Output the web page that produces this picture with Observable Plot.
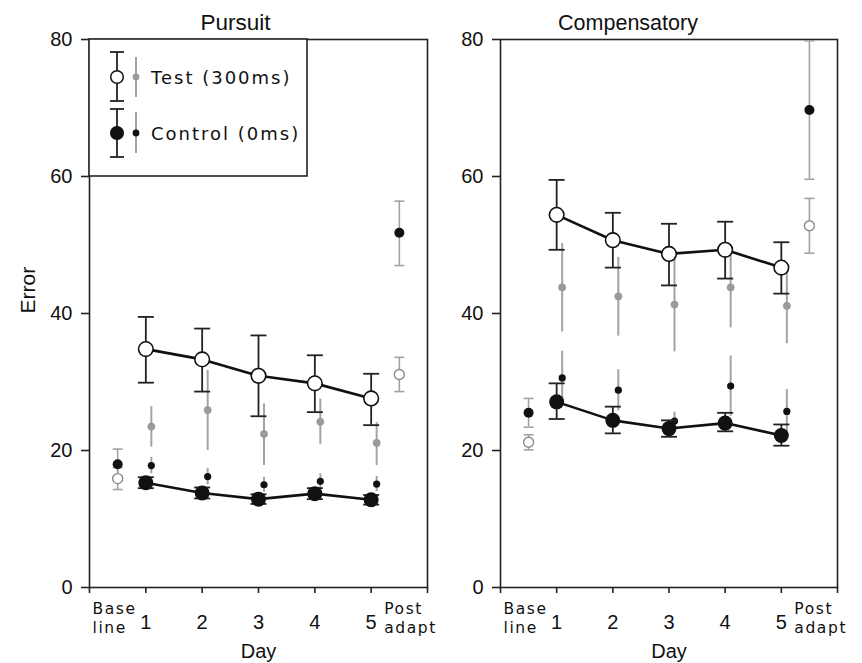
<!DOCTYPE html>
<html><head><meta charset="utf-8">
<script src="https://cdn.jsdelivr.net/npm/d3@7"></script>
<script src="https://cdn.jsdelivr.net/npm/@observablehq/plot@0.6"></script>
<style>
html,body{margin:0;padding:0;background:#fff;}
#wrap{position:relative;width:862px;height:663px;overflow:hidden;background:#fff;}
#wrap svg{position:absolute;top:0;overflow:visible;}
</style></head><body><div id="wrap"></div>
<script>
// ---------- data ----------
const days = [1, 2, 3, 4, 5];
const axisTicks = [0, 1, 2, 3, 4, 5, 6];
const yTicks = [0, 20, 40, 60, 80];
const baselineX = 0.5, postX = 5.5;
const baseLabel = "Base\nline", postLabel = "Post\nadapt";
const titles = ["Pursuit", "Compensatory"];
const legendLabels = ["Test (300ms)", "Control (0ms)"];

// Pursuit
const pursuitTest = [34.8, 33.3, 30.9, 29.8, 27.6];
const pursuitTestLo = [29.9, 28.6, 25.0, 25.6, 23.7];
const pursuitTestHi = [39.5, 37.8, 36.8, 33.9, 31.2];
const pursuitCtrl = [15.3, 13.8, 12.9, 13.7, 12.8];
const pursuitCtrlLo = [14.5, 13.0, 12.2, 12.9, 12.1];
const pursuitCtrlHi = [16.1, 14.6, 13.6, 14.5, 13.5];
const pursuitTestSmall = [23.5, 25.9, 22.4, 24.2, 21.1];
const pursuitTestSmallLo = [20.5, 20.0, 17.8, 20.9, 17.8];
const pursuitTestSmallHi = [26.4, 31.7, 26.8, 27.5, 24.1];
const pursuitCtrlSmall = [17.8, 16.2, 15.0, 15.5, 15.1];
const pursuitCtrlSmallLo = [16.6, 15.0, 13.9, 14.4, 14.0];
const pursuitCtrlSmallHi = [19.0, 17.4, 16.1, 16.6, 16.2];
const pursuitBase = {test: [15.9, 14.3, 17.5], ctrl: [18.0, 15.8, 20.2]};
const pursuitPost = {test: [31.1, 28.6, 33.6], ctrl: [51.8, 47.0, 56.4]};

// Compensatory
const compTest = [54.4, 50.7, 48.7, 49.3, 46.7];
const compTestLo = [49.3, 46.7, 44.1, 45.1, 42.9];
const compTestHi = [59.5, 54.7, 53.1, 53.4, 50.4];
const compCtrl = [27.1, 24.4, 23.2, 24.0, 22.2];
const compCtrlLo = [24.6, 22.5, 22.0, 22.8, 20.7];
const compCtrlHi = [29.8, 26.4, 24.4, 25.5, 23.8];
const compTestSmall = [43.8, 42.5, 41.3, 43.8, 41.1];
const compTestSmallLo = [37.3, 36.7, 34.4, 37.9, 35.6];
const compTestSmallHi = [50.2, 48.2, 48.2, 49.7, 46.6];
const compCtrlSmall = [30.6, 28.8, 24.3, 29.4, 25.7];
const compCtrlSmallLo = [26.7, 25.8, 23.0, 25.0, 22.5];
const compCtrlSmallHi = [34.5, 31.8, 25.6, 33.8, 28.9];
const compBase = {test: [21.2, 20.1, 22.3], ctrl: [25.5, 23.4, 27.6]};
const compPost = {test: [52.8, 48.8, 56.8], ctrl: [69.7, 59.6, 79.8]};

// ---------- helpers ----------
const rows = (m, lo, hi) => days.map((d, i) => ({x: d, y: m[i], lo: lo[i], hi: hi[i]}));
const single = (x, a) => ({x, y: a[0], lo: a[1], hi: a[2]});
const capSymbol = {draw(ctx, size) { const w = Math.sqrt(size / Math.PI); ctx.moveTo(-w, 0); ctx.lineTo(w, 0); }};
const FONT = "'Liberation Sans', Arial, Helvetica, sans-serif";
const LFONT = "'DejaVu Sans', Verdana, sans-serif";
const GRAY = "#a3a3a3";

function panel(p) {
  const main = rows(p.test, p.testLo, p.testHi);
  const ctrl = rows(p.ctrl, p.ctrlLo, p.ctrlHi);
  const tS = rows(p.testS, p.testSLo, p.testSHi);
  const cS = rows(p.ctrlS, p.ctrlSLo, p.ctrlSHi);
  const extraTest = [single(baselineX, p.base.test), single(postX, p.post.test)];
  const extraCtrl = [single(baselineX, p.base.ctrl), single(postX, p.post.ctrl)];
  const extras = [...extraTest, ...extraCtrl];
  const SM = 5.5; // pixel offset of small markers
  const marks = [
    Plot.frame({stroke: "#222", strokeWidth: 1.6}),
    Plot.axisY({ticks: yTicks, tickSize: 8, tickPadding: 9, fontSize: 20, stroke: "#222", strokeWidth: 1.6, label: null, fill: "#111"}),
    Plot.axisX({ticks: axisTicks, tickSize: 6, tickFormat: () => "", stroke: "#222", strokeWidth: 1.6, label: null}),
    Plot.text(days, {x: d => d, text: d => String(d), frameAnchor: "bottom", dy: 41, lineAnchor: "bottom", fontSize: 20, fill: "#111"}),
    Plot.text([baseLabel], {x: () => 0, text: d => d, frameAnchor: "bottom", textAnchor: "start", dx: 3, dy: 45, lineAnchor: "bottom", lineHeight: 1.22, fontSize: 15.5, fontFamily: LFONT, fill: "#111"}),
    Plot.text([postLabel], {x: () => 5, text: d => d, frameAnchor: "bottom", textAnchor: "start", dx: 13, dy: 45, lineAnchor: "bottom", lineHeight: 1.22, fontSize: 15.5, fontFamily: LFONT, fill: "#111"}),
    Plot.text(["Day"], {text: d => d, frameAnchor: "bottom", dy: 70, lineAnchor: "bottom", fontSize: 20, fill: "#111"}),
    Plot.text([p.title], {text: d => d, frameAnchor: "top", dx: p.titleDx, dy: -10, lineAnchor: "bottom", fontSize: p.titleSize, fill: "#111"}),
    // small (secondary) series, offset to the right
    Plot.ruleX(tS, {x: "x", y1: "lo", y2: "hi", dx: SM, stroke: GRAY, strokeWidth: 2}),
    Plot.ruleX(cS, {x: "x", y1: "lo", y2: "hi", dx: SM, stroke: GRAY, strokeWidth: 2}),
    Plot.dot(tS, {x: "x", y: "y", dx: SM, r: 3.6, fill: "#9b9b9b", stroke: "#8e8e8e", strokeWidth: 0.6}),
    Plot.dot(cS, {x: "x", y: "y", dx: SM, r: 3.6, fill: "#111"}),
    // baseline / post-adaptation
    Plot.ruleX(extras, {x: "x", y1: "lo", y2: "hi", stroke: GRAY, strokeWidth: 1.6}),
    Plot.dot(extras, {x: "x", y: "lo", symbol: capSymbol, r: 5, stroke: GRAY, strokeWidth: 1.6, fill: "none"}),
    Plot.dot(extras, {x: "x", y: "hi", symbol: capSymbol, r: 5, stroke: GRAY, strokeWidth: 1.6, fill: "none"}),
    Plot.dot(extraTest, {x: "x", y: "y", r: 5, fill: "white", stroke: "#8a8a8a", strokeWidth: 1.4}),
    Plot.dot(extraCtrl, {x: "x", y: "y", r: 5, fill: "#111"}),
    // main series
    Plot.ruleX([...main, ...ctrl], {x: "x", y1: "lo", y2: "hi", stroke: "#222", strokeWidth: 1.8}),
    Plot.dot([...main, ...ctrl], {x: "x", y: "lo", symbol: capSymbol, r: 8, stroke: "#222", strokeWidth: 1.8, fill: "none"}),
    Plot.dot([...main, ...ctrl], {x: "x", y: "hi", symbol: capSymbol, r: 8, stroke: "#222", strokeWidth: 1.8, fill: "none"}),
    Plot.line(main, {x: "x", y: "y", stroke: "#111", strokeWidth: 2.6}),
    Plot.line(ctrl, {x: "x", y: "y", stroke: "#111", strokeWidth: 2.6}),
    Plot.dot(main, {x: "x", y: "y", r: 7.3, fill: "white", stroke: "#111", strokeWidth: 1.6}),
    Plot.dot(ctrl, {x: "x", y: "y", r: 7.5, fill: "#111"})
  ];
  if (p.yLabel) marks.push(Plot.text([p.yLabel], {text: d => d, frameAnchor: "left", dx: -61, rotate: -90, fontSize: 21, fill: "#111"}));
  const svg = Plot.plot({
    width: p.width, height: 663,
    marginLeft: p.marginLeft, marginRight: p.marginRight, marginTop: 39, marginBottom: 76,
    style: {fontFamily: FONT, fontSize: "19px", color: "#111", background: "transparent"},
    x: {type: "linear", domain: [0, 6]},
    y: {type: "linear", domain: [0, 80]},
    marks
  });
  d3.select(svg).selectAll("text")
    .filter(function () { return /Base|Post/.test(this.textContent); })
    .style("letter-spacing", "1.6px");
  return svg;
}

const wrap = document.getElementById("wrap");
const left = panel({
  title: titles[0], titleDx: -23, titleSize: 22.5, yLabel: "Error", width: 440, marginLeft: 89, marginRight: 13,
  test: pursuitTest, testLo: pursuitTestLo, testHi: pursuitTestHi,
  ctrl: pursuitCtrl, ctrlLo: pursuitCtrlLo, ctrlHi: pursuitCtrlHi,
  testS: pursuitTestSmall, testSLo: pursuitTestSmallLo, testSHi: pursuitTestSmallHi,
  ctrlS: pursuitCtrlSmall, ctrlSLo: pursuitCtrlSmallLo, ctrlSHi: pursuitCtrlSmallHi,
  base: pursuitBase, post: pursuitPost
});
left.style.left = "0px";
wrap.appendChild(left);
const right = panel({
  title: titles[1], titleDx: -41, titleSize: 21.5, yLabel: null, width: 422, marginLeft: 60, marginRight: 25,
  test: compTest, testLo: compTestLo, testHi: compTestHi,
  ctrl: compCtrl, ctrlLo: compCtrlLo, ctrlHi: compCtrlHi,
  testS: compTestSmall, testSLo: compTestSmallLo, testSHi: compTestSmallHi,
  ctrlS: compCtrlSmall, ctrlSLo: compCtrlSmallLo, ctrlSHi: compCtrlSmallHi,
  base: compBase, post: compPost
});
right.style.left = "440px";
wrap.appendChild(right);

// ---------- legend (box inside the Pursuit panel) ----------
const lg = d3.select(wrap).append("svg").attr("width", 862).attr("height", 663).style("left", "0px").style("pointer-events", "none");
lg.append("rect").attr("x", 89).attr("y", 39).attr("width", 218).attr("height", 137).attr("fill", "white").attr("stroke", "#222").attr("stroke-width", 1.6);
const legendRows = [
  {label: legendLabels[0], cy: 77, big: "white", small: "#9b9b9b", bar: [52, 101], sbar: [57, 97]},
  {label: legendLabels[1], cy: 133, big: "#111", small: "#111", bar: [109, 157], sbar: [112, 153]}
];
for (const r of legendRows) {
  lg.append("line").attr("x1", 117).attr("x2", 117).attr("y1", r.bar[0]).attr("y2", r.bar[1]).attr("stroke", "#222").attr("stroke-width", 1.8);
  for (const yy of r.bar) lg.append("line").attr("x1", 110).attr("x2", 124).attr("y1", yy).attr("y2", yy).attr("stroke", "#222").attr("stroke-width", 1.8);
  lg.append("circle").attr("cx", 117).attr("cy", r.cy).attr("r", 6.3).attr("fill", r.big).attr("stroke", "#111").attr("stroke-width", 1.5);
  lg.append("line").attr("x1", 136).attr("x2", 136).attr("y1", r.sbar[0]).attr("y2", r.sbar[1]).attr("stroke", GRAY).attr("stroke-width", 2);
  lg.append("circle").attr("cx", 136).attr("cy", r.cy).attr("r", 3.4).attr("fill", r.small);
  lg.append("text").attr("x", 151).attr("y", r.cy + 7).attr("font-family", LFONT).attr("font-size", 18).attr("letter-spacing", "2px").attr("fill", "#111").text(r.label);
}
</script>
</body></html>
